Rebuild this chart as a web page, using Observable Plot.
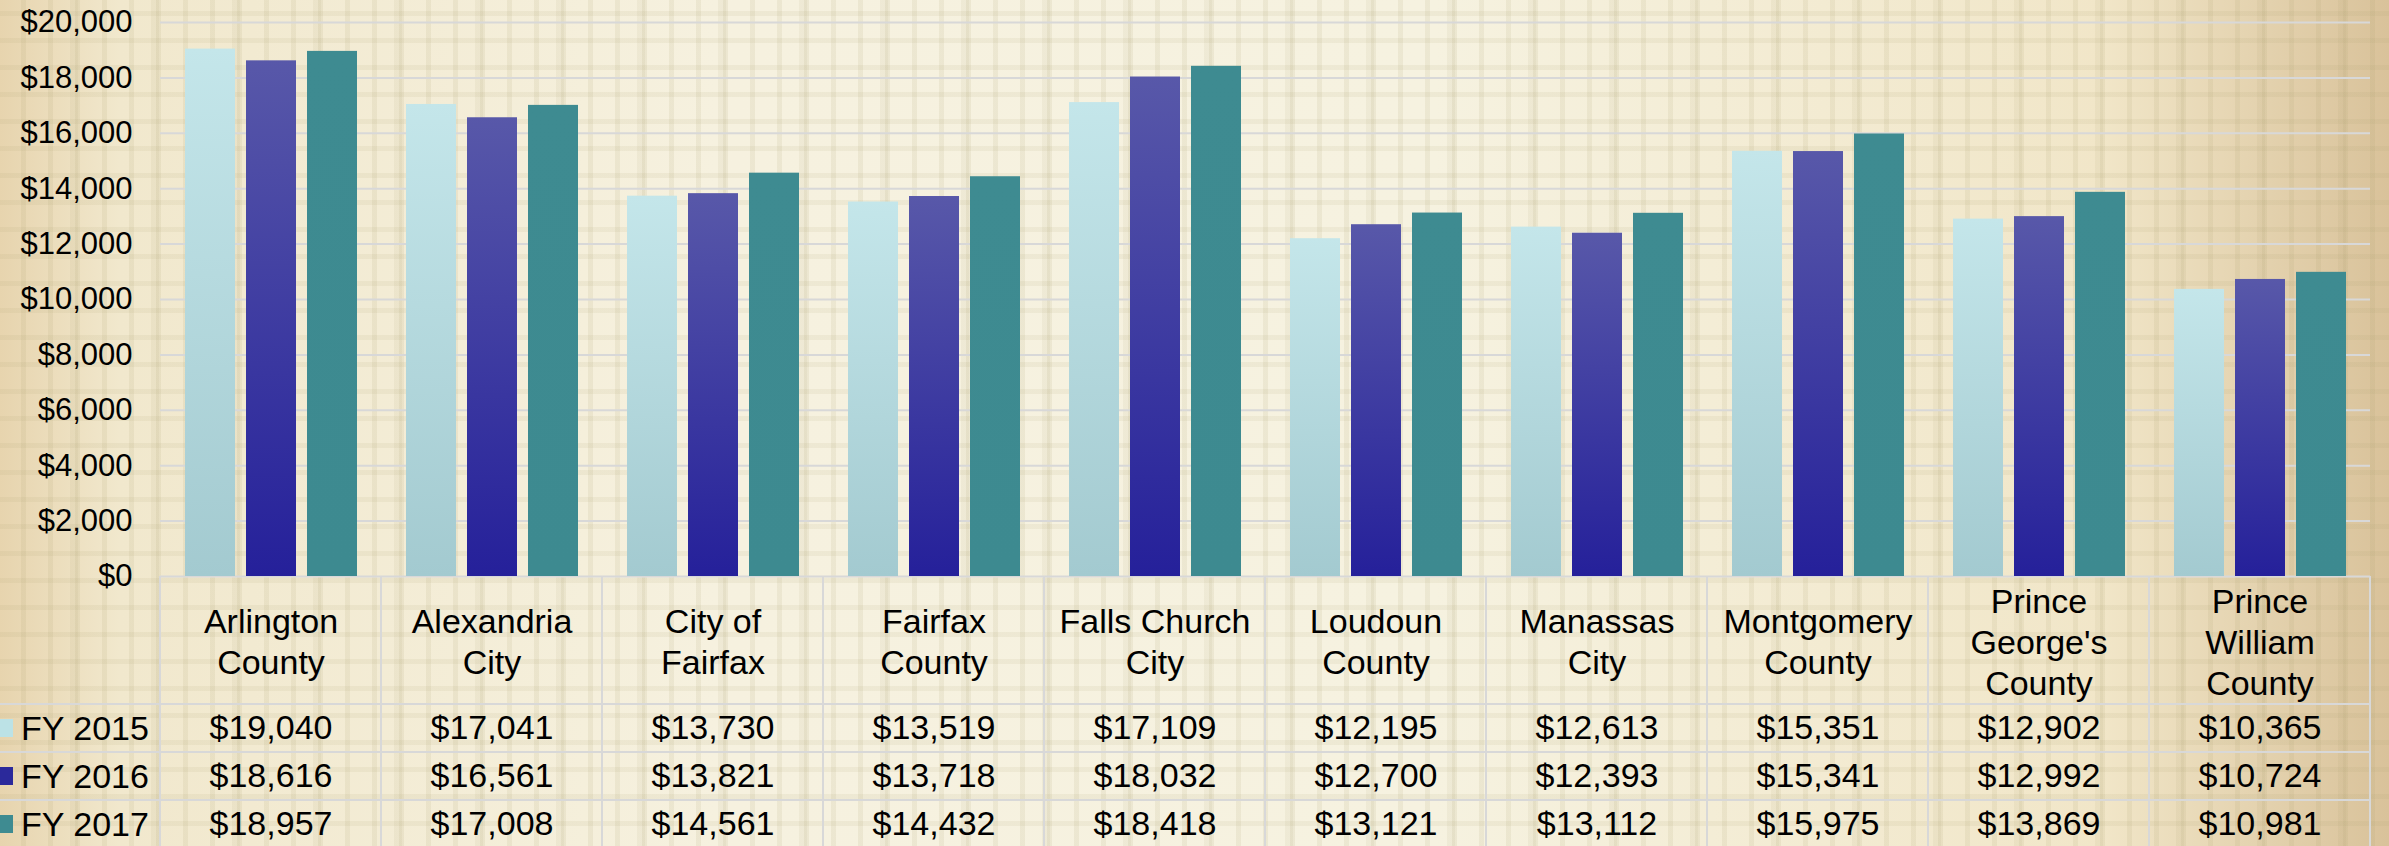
<!DOCTYPE html>
<html><head><meta charset="utf-8">
<script src="https://cdn.jsdelivr.net/npm/d3@7"></script>
<script src="https://cdn.jsdelivr.net/npm/@observablehq/plot@0.6"></script>
<style>
html,body{margin:0;padding:0;}
body{width:2389px;height:846px;overflow:hidden;
background-image:
 repeating-linear-gradient(90deg, rgba(170,160,110,0) 0px, rgba(170,160,110,0) 21px, rgba(165,155,105,0.12) 21px, rgba(165,155,105,0.12) 26px, rgba(170,160,110,0) 26px, rgba(170,160,110,0) 27px),
 repeating-linear-gradient(0deg, rgba(170,160,110,0) 0px, rgba(170,160,110,0) 20px, rgba(165,155,105,0.10) 20px, rgba(165,155,105,0.10) 25px, rgba(170,160,110,0) 25px, rgba(170,160,110,0) 27px),
 repeating-linear-gradient(90deg, rgba(150,140,90,0) 0px, rgba(150,140,90,0) 70px, rgba(150,140,90,0.08) 70px, rgba(150,140,90,0.08) 78px, rgba(150,140,90,0) 78px, rgba(150,140,90,0) 81px),
 linear-gradient(90deg, #E7D4AE 0%, #F1E8CD 5%, #F6F1DF 30%, #F6F2E0 60%, #F1E6C8 88%, #D9C29A 100%);
}
#chart svg{display:block;}
</style></head><body><div id="chart"></div><script>
const categories = ["Arlington County","Alexandria City","City of Fairfax","Fairfax County","Falls Church City","Loudoun County","Manassas City","Montgomery County","Prince George's County","Prince William County"];
const categoryLabels = ["Arlington\nCounty","Alexandria\nCity","City of\nFairfax","Fairfax\nCounty","Falls Church\nCity","Loudoun\nCounty","Manassas\nCity","Montgomery\nCounty","Prince\nGeorge's\nCounty","Prince\nWilliam\nCounty"];
const series = ["FY 2015","FY 2016","FY 2017"];
const fy2015 = [19040,17041,13730,13519,17109,12195,12613,15351,12902,10365];
const fy2016 = [18616,16561,13821,13718,18032,12700,12393,15341,12992,10724];
const fy2017 = [18957,17008,14561,14432,18418,13121,13112,15975,13869,10981];
const yTicks = [0,2000,4000,6000,8000,10000,12000,14000,16000,18000,20000];

const seriesValues = [fy2015, fy2016, fy2017];
const rows = [];
series.forEach((s, si) => categories.forEach((c, ci) => rows.push({category: c, series: s, value: seriesValues[si][ci]})));
const headers = categories.map((c, i) => ({category: c, label: categoryLabels[i]}));
const fmt = d3.format("$,");
const rowDy = [152, 200, 248];

const svg = Plot.plot({
  width: 2389, height: 846,
  marginLeft: 158, marginRight: 18, marginTop: 22, marginBottom: 270,
  style: {background: "transparent", fontFamily: "'Liberation Sans', Arial, sans-serif", fontSize: "31px", color: "#000"},
  fx: {domain: categories, padding: 0, axis: null, label: null},
  x: {domain: series, paddingInner: 0.187, paddingOuter: 0.39, axis: null},
  y: {domain: [0, 20000], ticks: yTicks, tickFormat: fmt, tickSize: 0, tickPadding: 28, label: null},
  color: {domain: series, range: ["url(#g15)", "url(#g16)", "url(#g17)"]},
  marks: [
    Plot.ruleY(yTicks, {stroke: "#D8D8D8", strokeWidth: 2}),
    Plot.barY(rows, {fx: "category", x: "series", y: "value", fill: "series"}),
    Plot.text(headers, {fx: "category", text: "label", frameAnchor: "bottom", dy: 64, lineAnchor: "middle", lineHeight: 1.21, fontSize: 34, fill: "#000"}),
    ...series.map((s, si) => Plot.text(rows.filter(r => r.series === s), {fx: "category", text: d => fmt(d.value), frameAnchor: "bottom", dy: rowDy[si], lineAnchor: "middle", fontSize: 34, fill: "#000"}))
  ]
});
document.getElementById("chart").appendChild(svg);

// gradient definitions & table decoration
const root = d3.select(svg);
const defs = root.insert("defs", ":first-child");
const grads = [["g15", "#C4E6EA", "#A3CAD0"], ["g16", "#5858A9", "#25209A"], ["g17", "#3E8B91", "#3D8A90"]];
grads.forEach(([id, a, b]) => {
  const g = defs.append("linearGradient").attr("id", id).attr("x1", 0).attr("y1", 0).attr("x2", 0).attr("y2", 1);
  g.append("stop").attr("offset", "0%").attr("stop-color", a);
  g.append("stop").attr("offset", "100%").attr("stop-color", b);
});
const fx = svg.scale("fx");
const right = fx.apply(categories[categories.length - 1]) + fx.bandwidth;
const y0 = 576;
const tbl = root.append("g").attr("stroke", "#D8D8D8").attr("stroke-width", 2);
[704, 752, 800].forEach(y => tbl.append("line").attr("x1", 0).attr("x2", right).attr("y1", y).attr("y2", y));
categories.forEach(c => { const x = fx.apply(c); tbl.append("line").attr("x1", x).attr("x2", x).attr("y1", y0).attr("y2", 846); });
tbl.append("line").attr("x1", right).attr("x2", right).attr("y1", y0).attr("y2", 846);
const legendColors = ["#BCE2E6", "#2B299B", "#3E8B91"];
const lg = root.append("g").attr("text-anchor", "start");
series.forEach((s, i) => {
  const cy = y0 + rowDy[i];
  lg.append("rect").attr("x", 0).attr("y", cy - 9).attr("width", 13).attr("height", 18).attr("fill", legendColors[i]);
  lg.append("text").attr("x", 21).attr("y", cy).attr("dy", "0.35em").attr("font-size", 34).attr("fill", "#000").text(s);
});
</script></body></html>
